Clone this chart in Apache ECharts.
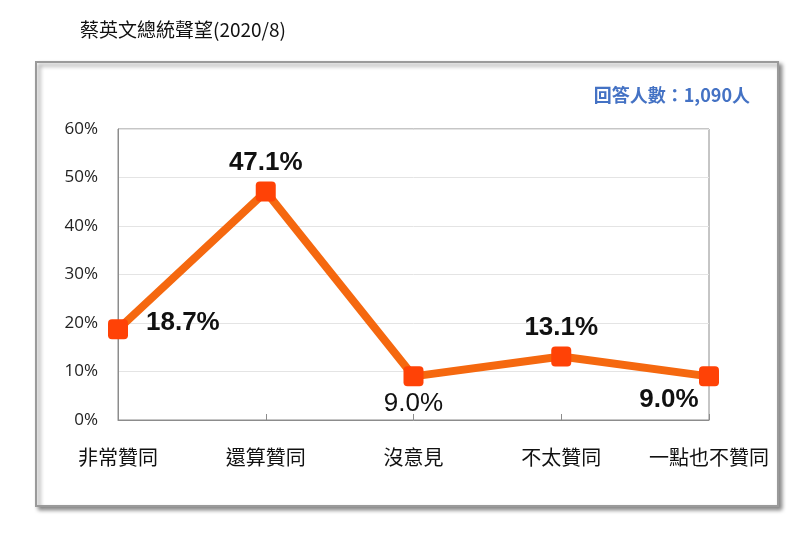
<!DOCTYPE html>
<html><head><meta charset="utf-8">
<script src="https://cdn.jsdelivr.net/npm/echarts@6/dist/echarts.min.js"></script>
<style>html,body{margin:0;padding:0;background:#fff}#c{width:800px;height:542px}</style>
</head><body><div id="c"></div>
<script>
var categories = ['非常贊同', '還算贊同', '沒意見', '不太贊同', '一點也不贊同'];
var values = [18.7, 47.1, 9.0, 13.1, 9.0];
var yTicks = [0, 10, 20, 30, 40, 50, 60];
var titleText = '蔡英文總統聲望(2020/8)';
var noteText = '回答人數：1,090人';

var labelCfg = [
  {position: 'right', distance: 18, fontWeight: 'bold', offset: [0, -6]},
  {position: 'top', distance: 6, fontWeight: 'bold'},
  {position: 'bottom', distance: 4, fontWeight: 'normal'},
  {position: 'top', distance: 6, fontWeight: 'bold'},
  {position: 'bottom', distance: 0, fontWeight: 'bold', offset: [-40, 0]}
];
var font = '"Noto Sans CJK TC", "Noto Sans", sans-serif';
var data = values.map(function (v, i) {
  var c = labelCfg[i];
  return {
    value: v,
    label: {show: true, position: c.position, distance: c.distance, offset: c.offset || [0, 0],
      fontWeight: c.fontWeight, fontSize: 26, color: '#111', fontFamily: 'Arial, "Liberation Sans", sans-serif',
      formatter: function (p) { return p.value.toFixed(1) + '%'; }}
  };
});

var chart = echarts.init(document.getElementById('c'), null, {renderer: 'canvas'});
chart.setOption({
  backgroundColor: '#fff',
  animation: false,
  graphic: [
    {type: 'rect', shape: {x: 36, y: 62, width: 742, height: 444},
      style: {fill: '#fff', stroke: '#9a9a9a', lineWidth: 2, shadowColor: 'rgba(0,0,0,0.45)', shadowBlur: 4, shadowOffsetX: 3, shadowOffsetY: 3}, z: -10},
    {type: 'text', left: 80, top: 20, style: {text: titleText, fontSize: 19, fill: '#111', fontFamily: font}},
    {type: 'text', right: 50, top: 86, style: {text: noteText, fontSize: 18, fill: '#4472c4', fontWeight: 'bold', fontFamily: font}}
  ],
  grid: {left: 118, right: 91, top: 129, bottom: 122, show: true, borderColor: '#8c8c8c', borderWidth: 1, backgroundColor: 'transparent'},
  xAxis: {
    type: 'category', data: categories, boundaryGap: false,
    axisLine: {lineStyle: {color: '#8c8c8c', width: 1}},
    axisTick: {show: true, inside: true, length: 6, lineStyle: {color: '#8c8c8c'}},
    axisLabel: {fontSize: 20, color: '#111', margin: 27, fontFamily: font, interval: 0}
  },
  yAxis: {
    type: 'value', min: yTicks[0], max: yTicks[yTicks.length - 1], interval: 10,
    axisLine: {show: true, lineStyle: {color: '#8c8c8c'}},
    axisTick: {show: false},
    splitLine: {lineStyle: {color: '#e4e4e4'}},
    axisLabel: {fontSize: 17, color: '#222', margin: 20, fontFamily: '"Open Sans", "Noto Sans", sans-serif', formatter: '{value}%'}
  },
  series: [{
    type: 'line', data: data,
    lineStyle: {color: '#f5680f', width: 8},
    itemStyle: {color: '#ff4206'},
    symbol: 'path://M4,0 H16 Q20,0 20,4 V16 Q20,20 16,20 H4 Q0,20 0,16 V4 Q0,0 4,0 Z',
    symbolSize: 20,
    z: 5
  }]
});
</script></body></html>
